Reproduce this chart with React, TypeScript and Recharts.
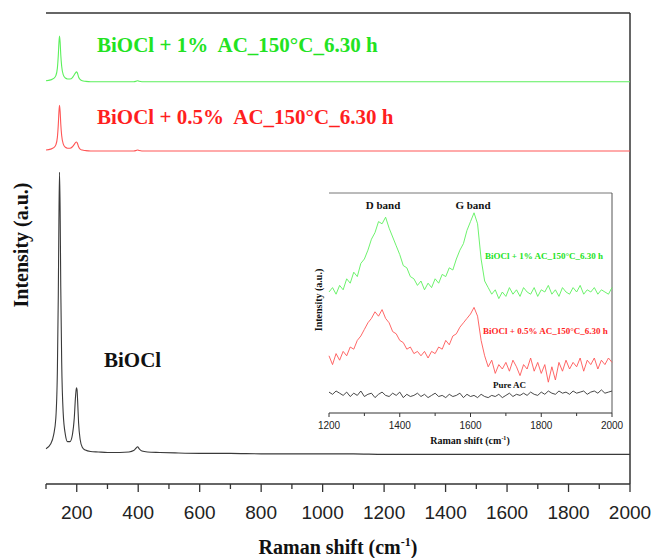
import React from 'react';
import { LineChart, Line, XAxis, YAxis, ReferenceLine } from 'recharts';

// main spectra (Raman shift, cm-1) and stacked intensities (a.u., offset)
const shift = [
  100, 115, 125, 132, 137, 140, 142, 144, 146, 148, 151, 156, 163, 170, 178, 186, 192, 196, 199, 201,
  203, 206, 211, 218, 228, 245, 270, 300, 340, 370, 385, 393, 398, 403, 412, 430, 470, 520, 600, 700,
  800, 900, 1000, 1100, 1200, 1300, 1400, 1500, 1600, 1700, 1800, 1900, 2000,
];
const bioclPure = [
  7.5, 8.5, 10.5, 14, 24, 40, 56, 66.2, 58, 42, 26, 15, 10.5, 9, 9, 10.5, 14, 18.5, 20.4, 20,
  17.5, 13, 9.5, 7.8, 7.2, 6.9, 6.8, 6.7, 6.7, 6.8, 7.1, 7.6, 7.9, 7.5, 7.0, 6.8, 6.7, 6.6, 6.5, 6.5,
  6.4, 6.4, 6.4, 6.4, 6.3, 6.3, 6.3, 6.3, 6.3, 6.3, 6.3, 6.3, 6.3,
];
const biocl05 = [
  70.9, 71.1, 71.4, 72, 73.6, 76.3, 78.9, 80.4, 79.1, 76.5, 74, 72.2, 71.5, 71.3, 71.3, 71.6, 72.1, 72.5, 72.6, 72.5,
  72.2, 71.6, 71.1, 70.9, 70.8, 70.7, 70.7, 70.7, 70.7, 70.7, 70.7, 70.8, 70.9, 70.8, 70.7, 70.7, 70.7, 70.7, 70.7, 70.7,
  70.7, 70.7, 70.7, 70.7, 70.7, 70.7, 70.7, 70.7, 70.7, 70.7, 70.7, 70.7, 70.7,
];
const biocl1 = [
  85.6, 85.8, 86.1, 86.7, 88.3, 91, 93.6, 95.1, 93.8, 91.2, 88.7, 86.9, 86.2, 86, 86, 86.3, 86.9, 87.3, 87.5, 87.4,
  87.1, 86.4, 85.9, 85.6, 85.5, 85.4, 85.4, 85.4, 85.4, 85.4, 85.4, 85.5, 85.6, 85.5, 85.4, 85.4, 85.4, 85.4, 85.4, 85.4,
  85.4, 85.4, 85.4, 85.4, 85.4, 85.4, 85.4, 85.4, 85.4, 85.4, 85.4, 85.4, 85.4,
];
const mainTicks = [
  100, 200, 300, 400, 500, 600, 700, 800, 900, 1000, 1100, 1200, 1300, 1400, 1500, 1600, 1700, 1800, 1900, 2000,
];

// inset: D / G band region
const insetShift = [
  1200, 1210, 1220, 1230, 1240, 1250, 1260, 1270, 1280, 1290, 1300, 1310, 1320, 1330, 1340, 1350, 1360, 1370, 1380, 1390,
  1400, 1410, 1420, 1430, 1440, 1450, 1460, 1470, 1480, 1490, 1500, 1510, 1520, 1530, 1540, 1550, 1560, 1570, 1580, 1590,
  1600, 1610, 1620, 1630, 1640, 1650, 1660, 1670, 1680, 1690, 1700, 1710, 1720, 1730, 1740, 1750, 1760, 1770, 1780, 1790,
  1800, 1810, 1820, 1830, 1840, 1850, 1860, 1870, 1880, 1890, 1900, 1910, 1920, 1930, 1940, 1950, 1960, 1970, 1980, 1990,
  2000,
];
const insetAc1 = [
  55, 57, 54, 58, 56, 61, 59, 64, 62, 68, 70, 74, 79, 82, 87, 86, 89, 84, 80, 76,
  72, 67, 66, 62, 61, 58, 60, 56, 59, 57, 61, 59, 63, 62, 66, 65, 70, 74, 77, 83,
  87, 91, 86, 70, 60, 57, 54, 56, 52, 55, 53, 57, 54, 56, 53, 57, 55, 54, 57, 53,
  56, 55, 58, 54, 56, 53, 57, 55, 54, 57, 55, 58, 54, 56, 55, 57, 54, 56, 55, 54,
  57,
];
const insetAc05 = [
  26, 22, 27, 24, 28, 26, 30, 29, 33, 35, 38, 41, 43, 46, 44, 47, 43, 41, 37, 36,
  33, 32, 29, 30, 27, 28, 26, 28, 25, 28, 27, 30, 29, 33, 31, 35, 36, 39, 41, 43,
  45, 48, 44, 33, 26, 21, 24, 18, 22, 20, 23, 19, 24, 21, 17, 22, 20, 25, 19, 23,
  18, 22, 14, 21, 15, 23, 19, 24, 20, 23, 21, 25, 19, 24, 22, 25, 20, 24, 22, 25,
  23,
];
const insetPureAc = [
  9.5, 8.5, 10, 9, 8, 9.5, 7.5, 9, 8, 10, 7.5, 8.5, 9, 7, 8.5, 9.5, 8, 7.5, 9, 8,
  9.5, 7, 8.5, 7.5, 8, 9, 7.5, 8.5, 7, 8, 9, 7.5, 8, 7, 8.5, 7.5, 8, 9, 7, 8.5,
  7.5, 8, 7, 8.5, 7.5, 7, 8, 7.5, 8.5, 7, 8, 9, 7.5, 8.5, 8, 9, 8, 9.5, 8.5, 8,
  9.5, 8.5, 10, 9, 8.5, 10, 9, 9.5, 8.5, 10, 9, 9.5, 10, 8.5, 9.5, 10, 9, 10.5, 9, 9.5,
  10,
];
const insetTicks = [1200, 1300, 1400, 1500, 1600, 1700, 1800, 1900, 2000];

const mainData = shift.map((x, i) => ({ x, pure: bioclPure[i], ac05: biocl05[i], ac1: biocl1[i] }));
const insetData = insetShift.map((x, i) => ({ x, ac1: insetAc1[i], ac05: insetAc05[i], pure: insetPureAc[i] }));

const GREEN_TXT = '#22e322';
const GREEN_LINE = '#5cf05c';
const RED_TXT = '#ff1f1f';
const RED_LINE = '#ff5656';
const AXIS = '#333';
const SERIF = '"Liberation Serif", "Times New Roman", serif';
const SANS = '"Liberation Sans", Arial, sans-serif';

const MainTick = ({ x, y, payload }: any) => {
  const major = payload.value % 200 === 0;
  return (
    <g>
      <line x1={x} x2={x} y1={y} y2={y + (major ? 8 : 5)} stroke={AXIS} strokeWidth={1.3} />
      {major && (
        <text x={x} y={y + 35} textAnchor="middle" fontFamily={SANS} fontSize={19} fill="#222">
          {payload.value}
        </text>
      )}
    </g>
  );
};

const InsetTick = ({ x, y, payload }: any) => {
  const major = payload.value % 200 === 0;
  return (
    <g>
      <line x1={x} x2={x} y1={y} y2={y + (major ? 4 : 3)} stroke={AXIS} strokeWidth={1} />
      {major && (
        <text x={x} y={y + 16} textAnchor="middle" fontFamily={SANS} fontSize={10} fill="#222">
          {payload.value}
        </text>
      )}
    </g>
  );
};

export default function App() {
  return (
    <div style={{ position: 'absolute', left: 0, top: 0, width: 652, height: 558, background: '#fff' }}>
      <div style={{ position: 'absolute', left: 0, top: 0 }}>
        <LineChart width={652} height={558} data={mainData} margin={{ top: 13, right: 22, left: 46, bottom: 44 }}>
          <XAxis
            dataKey="x"
            type="number"
            domain={[100, 2000]}
            ticks={mainTicks}
            interval={0}
            height={30}
            tickSize={0}
            tickMargin={0}
            tickLine={false}
            tick={<MainTick />}
            axisLine={{ stroke: AXIS, strokeWidth: 1.5 }}
          />
          <YAxis type="number" domain={[0, 100]} width={0} tick={false} tickLine={false} axisLine={{ stroke: AXIS, strokeWidth: 1.5 }} />
          <ReferenceLine y={100} stroke={AXIS} strokeWidth={1.5} />
          <ReferenceLine x={2000} stroke={AXIS} strokeWidth={1.5} />
          <Line type="monotone" dataKey="pure" stroke="#3a3a3a" strokeWidth={1.1} dot={false} isAnimationActive={false} />
          <Line type="monotone" dataKey="ac05" stroke={RED_LINE} strokeWidth={1.1} dot={false} isAnimationActive={false} />
          <Line type="monotone" dataKey="ac1" stroke={GREEN_LINE} strokeWidth={1.1} dot={false} isAnimationActive={false} />
        </LineChart>
      </div>

      <div style={{ position: 'absolute', left: 300, top: 185 }}>
        <LineChart width={325} height={270} data={insetData} margin={{ top: 8, right: 13, left: 29, bottom: 12 }}>
          <XAxis
            dataKey="x"
            type="number"
            domain={[1200, 2000]}
            ticks={insetTicks}
            interval={0}
            height={30}
            tickSize={0}
            tickMargin={0}
            tickLine={false}
            tick={<InsetTick />}
            axisLine={{ stroke: AXIS, strokeWidth: 1 }}
          />
          <YAxis type="number" domain={[0, 100]} width={0} tick={false} tickLine={false} axisLine={{ stroke: AXIS, strokeWidth: 1 }} />
          <ReferenceLine y={100} stroke="#777" strokeWidth={1} />
          <ReferenceLine x={2000} stroke="#555" strokeWidth={1} />
          <Line type="linear" dataKey="pure" stroke="#333" strokeWidth={0.9} dot={false} isAnimationActive={false} />
          <Line type="linear" dataKey="ac05" stroke={RED_LINE} strokeWidth={0.9} dot={false} isAnimationActive={false} />
          <Line type="linear" dataKey="ac1" stroke={GREEN_LINE} strokeWidth={0.9} dot={false} isAnimationActive={false} />
        </LineChart>
      </div>

      <svg width={652} height={558} style={{ position: 'absolute', left: 0, top: 0, pointerEvents: 'none' }}>
        <g fontFamily={SERIF} fontWeight="bold">
          <text x={21} y={245} transform="rotate(-90 21 245)" textAnchor="middle" dominantBaseline="central" fontSize={20} fill="#111">
            Intensity (a.u.)
          </text>
          <text x={338} y={554} textAnchor="middle" fontSize={20} fill="#111">
            Raman shift (cm<tspan dy={-8} fontSize={12}>-1</tspan><tspan dy={8}>)</tspan>
          </text>
          <text x={97} y={52} fontSize={21} fill={GREEN_TXT} style={{ whiteSpace: 'pre' }}>
            {'BiOCl + 1%  AC_150°C_6.30 h'}
          </text>
          <text x={97} y={124} fontSize={21} fill={RED_TXT} style={{ whiteSpace: 'pre' }}>
            {'BiOCl + 0.5%  AC_150°C_6.30 h'}
          </text>
          <text x={104} y={367} fontSize={21} fill="#111">
            BiOCl
          </text>

          <text x={383} y={209} textAnchor="middle" fontSize={11} fill="#111">D band</text>
          <text x={473} y={209} textAnchor="middle" fontSize={11} fill="#111">G band</text>
          <text x={485} y={259} fontSize={9} fill={GREEN_TXT}>BiOCl + 1% AC_150°C_6.30 h</text>
          <text x={483} y={334} fontSize={9} fill={RED_TXT}>BiOCl + 0.5% AC_150°C_6.30 h</text>
          <text x={493} y={388} fontSize={9} fill="#111">Pure AC</text>
          <text x={318} y={300} transform="rotate(-90 318 300)" textAnchor="middle" dominantBaseline="central" fontSize={10} fill="#111">
            Intensity (a.u.)
          </text>
          <text x={470} y={444} textAnchor="middle" fontSize={10} fill="#111">
            Raman shift (cm<tspan dy={-4} fontSize={6}>-1</tspan><tspan dy={4}>)</tspan>
          </text>
        </g>
      </svg>
    </div>
  );
}
